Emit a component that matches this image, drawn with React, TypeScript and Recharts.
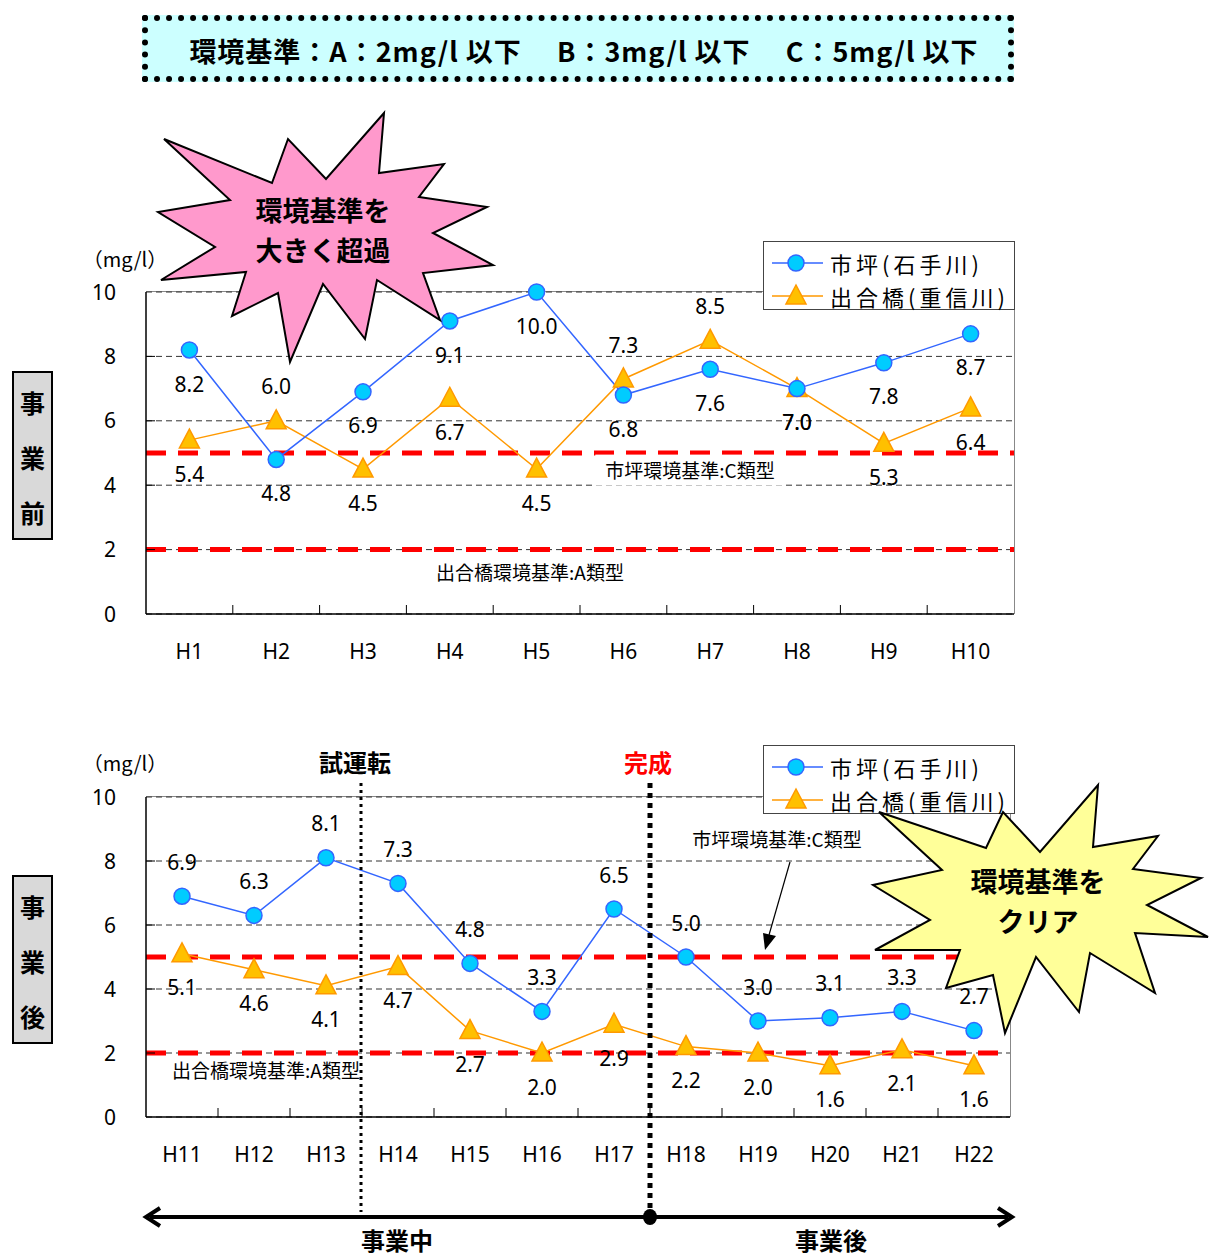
import React from 'react'
import { LineChart, Line, XAxis, YAxis, CartesianGrid, ReferenceLine } from 'recharts'

// 事業前 (H1〜H10)
const YEARS_BEFORE = ['H1', 'H2', 'H3', 'H4', 'H5', 'H6', 'H7', 'H8', 'H9', 'H10']
const ICHITSUBO_BEFORE = [8.2, 4.8, 6.9, 9.1, 10.0, 6.8, 7.6, 7.0, 7.8, 8.7]
const DEAI_BEFORE = [5.4, 6.0, 4.5, 6.7, 4.5, 7.3, 8.5, 7.0, 5.3, 6.4]

// 事業中・事業後 (H11〜H22)
const YEARS_AFTER = ['H11', 'H12', 'H13', 'H14', 'H15', 'H16', 'H17', 'H18', 'H19', 'H20', 'H21', 'H22']
const ICHITSUBO_AFTER = [6.9, 6.3, 8.1, 7.3, 4.8, 3.3, 6.5, 5.0, 3.0, 3.1, 3.3, 2.7]
const DEAI_AFTER = [5.1, 4.6, 4.1, 4.7, 2.7, 2.0, 2.9, 2.2, 2.0, 1.6, 2.1, 1.6]

const Y_TICKS = [0, 2, 4, 6, 8, 10]
const STANDARD_C = 5 // 市坪 C類型
const STANDARD_A = 2 // 出合橋 A類型

// label side per point (a = above, b = below)
const BEFORE_BLUE_POS = ['b', 'b', 'b', 'b', 'b', 'b', 'b', 'b', 'b', 'b']
const BEFORE_ORANGE_POS = ['b', 'a', 'b', 'b', 'b', 'a', 'a', 'b', 'b', 'b']
const AFTER_BLUE_POS = YEARS_AFTER.map(() => 'a')
const AFTER_ORANGE_POS = YEARS_AFTER.map(() => 'b')

const JP = '"Noto Sans CJK JP", "Noto Sans", sans-serif'
const NUM = '"Noto Sans", sans-serif'
const BLUE = '#3366ff'
const CYAN = '#00ccff'
const ORANGE = '#ff9900'
const GOLD = '#ffc000'

const TOP_PLOT = { left: 146, top: 292, width: 868, height: 322 }
const BOTTOM_PLOT = { left: 146, top: 797, width: 864, height: 320 }

type Plot = typeof TOP_PLOT

function makeXTick(band: number) {
  return (props: any) => {
    const { x, y, payload } = props
    const idx = props.index ?? payload.index
    return (
      <g>
        {idx > 0 && <line x1={x - band / 2} x2={x - band / 2} y1={y} y2={y - 9} stroke="#000" strokeWidth={1} />}
        <text x={x} y={y + 39} textAnchor="middle" dominantBaseline="middle" fontSize={21} fontFamily={NUM} fill="#000">
          {payload.value}
        </text>
      </g>
    )
  }
}

function YTick(props: any) {
  const { x, y, payload } = props
  return (
    <g>
      {payload.value > 0 && payload.value < 10 && <line x1={x} x2={x + 9} y1={y} y2={y} stroke="#000" strokeWidth={1} />}
      <text x={x - 30} y={y + 2} textAnchor="end" dominantBaseline="middle" fontSize={21} fontFamily={NUM} fill="#000">
        {payload.value}
      </text>
    </g>
  )
}

function makeValueLabel(pos: string[], name: string) {
  return (props: any) => {
    const { x, y, value, index } = props
    if (x == null || y == null) return null
    const off = pos[index] === 'a' ? -32 : 36
    return (
      <text key={`${name}-${index}`} x={x} y={y + off} textAnchor="middle" dominantBaseline="middle" fontSize={21} fontFamily={NUM} fill="#000">
        {Number(value).toFixed(1)}
      </text>
    )
  }
}

function renderTriangle(p: any) {
  const { cx, cy, index } = p
  if (cx == null || cy == null) return <g key={`t-${index}`} />
  return (
    <path
      key={`t-${index}`}
      d={`M${cx},${cy - 11} L${cx - 10},${cy + 8} L${cx + 10},${cy + 8} Z`}
      fill={GOLD} stroke={ORANGE} strokeWidth={1.5}
    />
  )
}

function Panel({ plot, years, blue, orange, bluePos, orangePos }: {
  plot: Plot; years: string[]; blue: number[]; orange: number[]; bluePos: string[]; orangePos: string[]
}) {
  const band = plot.width / years.length
  const data = years.map((y, i) => ({ year: y, ichitsubo: blue[i], deai: orange[i] }))
  const width = plot.left + plot.width + 16
  const height = 42 + plot.height + 60 + 4
  return (
    <>
      <div style={{
        position: 'absolute', left: plot.left, top: plot.top - 1, width: plot.width + 1, height: plot.height + 1,
        borderTop: '1.5px solid #888', borderRight: '1.5px solid #888', boxSizing: 'border-box',
      }} />
      <div style={{ position: 'absolute', left: 0, top: plot.top - 42 }}>
        <LineChart width={width} height={height} data={data} margin={{ top: 42, right: 16, bottom: 4, left: plot.left - 60 }}>
          <CartesianGrid vertical={false} stroke="#333" strokeDasharray="6 4" />
          <XAxis
            dataKey="year" height={60} padding={{ left: band / 2, right: band / 2 }}
            axisLine={{ stroke: '#000', strokeWidth: 1.5 }} tickLine={false} tickSize={0} tickMargin={0}
            interval={0} tick={makeXTick(band)}
          />
          <YAxis
            width={60} domain={[0, 10]} ticks={Y_TICKS} interval={0}
            axisLine={{ stroke: '#000', strokeWidth: 1.5 }} tickLine={false} tickSize={0} tickMargin={0}
            tick={YTick}
          />
          <ReferenceLine y={STANDARD_C} stroke="#ff0000" strokeWidth={5} strokeDasharray="20 12" />
          <ReferenceLine y={STANDARD_A} stroke="#ff0000" strokeWidth={5} strokeDasharray="20 12" />
          <Line
            dataKey="deai" stroke={ORANGE} strokeWidth={1.5} isAnimationActive={false}
            dot={renderTriangle} activeDot={false} label={makeValueLabel(orangePos, 'o')}
          />
          <Line
            dataKey="ichitsubo" stroke={BLUE} strokeWidth={1.5} isAnimationActive={false}
            dot={{ r: 8, fill: CYAN, stroke: BLUE, strokeWidth: 1.5 }} activeDot={false}
            label={makeValueLabel(bluePos, 'b')}
          />
        </LineChart>
      </div>
    </>
  )
}

function LegendBox({ top }: { top: number }) {
  const row = (marker: React.ReactNode, color: string, text: string, y: number) => (
    <div style={{ position: 'absolute', left: 0, top: y - 16, height: 32, display: 'flex', alignItems: 'center' }}>
      <svg width={62} height={32} style={{ display: 'block' }}>
        <line x1={8} x2={59} y1={16} y2={16} stroke={color} strokeWidth={1.5} />
        {marker}
      </svg>
      <span style={{ fontFamily: JP, fontSize: 22, lineHeight: '32px', marginLeft: 4, letterSpacing: 4, whiteSpace: 'nowrap' }}>{text}</span>
    </div>
  )
  return (
    <div style={{
      position: 'absolute', left: 763, top, width: 252, height: 69, boxSizing: 'border-box',
      border: '1px solid #444', background: '#fff',
    }}>
      {row(<circle cx={32} cy={16} r={8} fill={CYAN} stroke={BLUE} strokeWidth={1.5} />, BLUE, '市坪(石手川)', 21)}
      {row(<path d="M32,5 L22,24 L42,24 Z" fill={GOLD} stroke={ORANGE} strokeWidth={1.5} />, ORANGE, '出合橋(重信川)', 54)}
    </div>
  )
}

function SideLabel({ top, chars }: { top: number; chars: string[] }) {
  return (
    <div style={{
      position: 'absolute', left: 12, top, width: 41, height: 169, boxSizing: 'border-box',
      border: '2px solid #000', background: '#d9d9d9',
    }}>
      {chars.map((c, i) => (
        <span key={c} style={{
          position: 'absolute', left: 0, width: 37, textAlign: 'center', top: 14 + i * 55,
          fontFamily: JP, fontWeight: 700, fontSize: 25, lineHeight: '30px',
        }}>{c}</span>
      ))}
    </div>
  )
}

function Note({ x, y, text, size = 19, bg }: { x: number; y: number; text: string; size?: number; bg?: string }) {
  return (
    <div style={{
      position: 'absolute', left: x, top: y, transform: 'translate(-50%, -50%)', fontFamily: JP,
      fontSize: size, whiteSpace: 'nowrap', background: bg, padding: bg ? '4px 10px' : 0, lineHeight: 1.2,
    }}>{text}</div>
  )
}

const PINK_STAR = '164,139 272,183 288,139 326,179 384,113 379,173 444,164 419,197 487,207 433,233 493,265 423,273 440,320 377,280 365,339 323,284 290,362 278,293 232,316 246,272 161,280 215,247 158,212 230,200'
const YELLOW_STAR = '879,812 986,848 1003,812 1040,852 1098,785 1093,847 1158,836 1133,869 1201,878 1147,905 1208,937 1135,933 1155,993 1090,953 1079,1012 1036,957 1005,1033 993,975 946,988 960,950 875,950 930,920 873,885 942,870'

export default function App() {
  const bandAfter = BOTTOM_PLOT.width / YEARS_AFTER.length
  const trialX = BOTTOM_PLOT.left + bandAfter * 3 - 1
  const doneX = BOTTOM_PLOT.left + bandAfter * 7
  const starText = { fontFamily: JP, fontWeight: 700, fontSize: 27, textAnchor: 'middle' as const, dominantBaseline: 'middle' as const }
  return (
    <div style={{ position: 'absolute', left: 0, top: 0, width: 1216, height: 1256, background: '#fff', overflow: 'hidden' }}>
      <div style={{
        position: 'absolute', left: 142, top: 15, width: 872, height: 67, boxSizing: 'border-box',
        border: '6px dotted #000', background: '#ccffff', display: 'flex', alignItems: 'center', justifyContent: 'center',
        fontFamily: JP, fontWeight: 700, fontSize: 27, letterSpacing: 1, whiteSpace: 'pre', paddingTop: 4, paddingLeft: 12,
      }}>
        {'環境基準：A：2mg/l 以下　 B：3mg/l 以下　 C：5mg/l 以下'}
      </div>

      <Panel plot={TOP_PLOT} years={YEARS_BEFORE} blue={ICHITSUBO_BEFORE} orange={DEAI_BEFORE}
        bluePos={BEFORE_BLUE_POS} orangePos={BEFORE_ORANGE_POS} />
      <Panel plot={BOTTOM_PLOT} years={YEARS_AFTER} blue={ICHITSUBO_AFTER} orange={DEAI_AFTER}
        bluePos={AFTER_BLUE_POS} orangePos={AFTER_ORANGE_POS} />

      <Note x={125} y={259} text="（mg/l）" size={20} />
      <Note x={125} y={763} text="（mg/l）" size={20} />
      <Note x={690} y={470} text="市坪環境基準:C類型" bg="#fff" />
      <Note x={530} y={572} text="出合橋環境基準:A類型" />
      <Note x={266} y={1070} text="出合橋環境基準:A類型" />
      <Note x={777} y={839} text="市坪環境基準:C類型" />

      <SideLabel top={371} chars={['事', '業', '前']} />
      <SideLabel top={875} chars={['事', '業', '後']} />

      <LegendBox top={241} />
      <LegendBox top={745} />

      <svg width={1216} height={1256} style={{ position: 'absolute', left: 0, top: 0, pointerEvents: 'none' }}>
        <line x1={trialX} x2={trialX} y1={783} y2={1212} stroke="#000" strokeWidth={3} strokeDasharray="3 4" />
        <line x1={doneX} x2={doneX} y1={783} y2={1217} stroke="#000" strokeWidth={5} strokeDasharray="5 5" />
        <text x={trialX - 6} y={765} {...starText} fontSize={24}>試運転</text>
        <text x={doneX - 2} y={765} {...starText} fontSize={24} fill="#ff0000">完成</text>

        <line x1={790} y1={862} x2={769} y2={935} stroke="#000" strokeWidth={1.2} />
        <polygon points="765,950 776,936 763,933" fill="#000" />

        <line x1={150} x2={1008} y1={1217} y2={1217} stroke="#000" strokeWidth={4} />
        <polyline points="160,1208 146,1217 160,1226" fill="none" stroke="#000" strokeWidth={4} />
        <polyline points="998,1208 1012,1217 998,1226" fill="none" stroke="#000" strokeWidth={4} />
        <ellipse cx={doneX} cy={1217} rx={7} ry={8} fill="#000" />
        <text x={397} y={1243} {...starText} fontSize={24}>事業中</text>
        <text x={831} y={1243} {...starText} fontSize={24}>事業後</text>

        <polygon points={PINK_STAR} fill="#ff99cc" stroke="#000" strokeWidth={2} strokeLinejoin="miter" />
        <text x={323} y={214} {...starText}>環境基準を</text>
        <text x={323} y={254} {...starText}>大きく超過</text>

        <polygon points={YELLOW_STAR} fill="#ffff99" stroke="#000" strokeWidth={2} />
        <text x={1038} y={885} {...starText}>環境基準を</text>
        <text x={1038} y={925} {...starText}>クリア</text>
      </svg>
    </div>
  )
}
